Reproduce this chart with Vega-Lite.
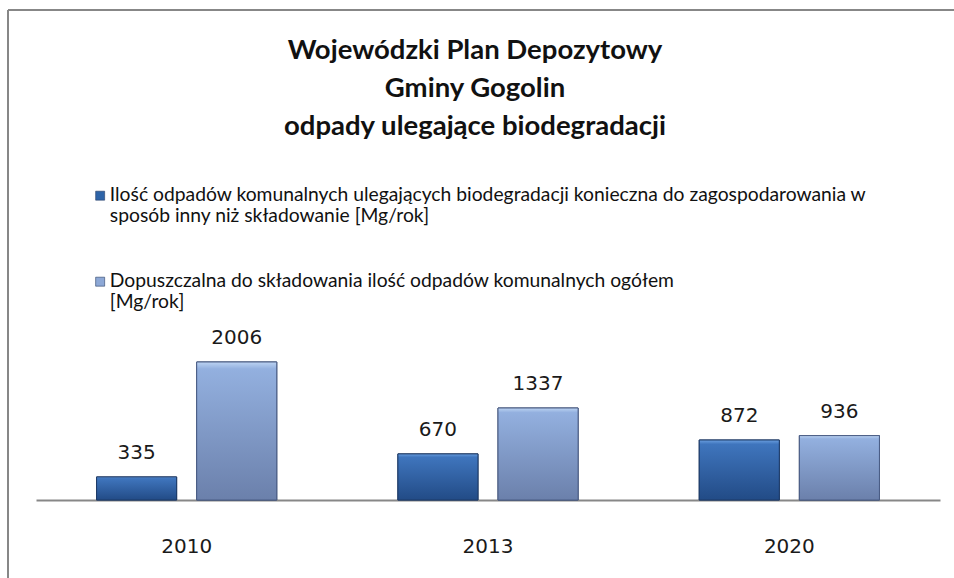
{
  "$schema": "https://vega.github.io/schema/vega-lite/v6.json",
  "width": 946,
  "height": 568,
  "autosize": {"type": "none"},
  "padding": {"left": 8, "top": 10, "right": 0, "bottom": 0},
  "background": "#ffffff",
  "title": {
    "text": ["Wojewódzki Plan Depozytowy", "Gminy Gogolin", "odpady ulegające biodegradacji"],
    "font": "Lato",
    "fontWeight": "bold",
    "fontSize": 27.5,
    "lineHeight": 38,
    "color": "#111111",
    "anchor": "middle",
    "dx": -6,
    "offset": -130
  },
  "data": {
    "values": [
      {"year": "2010", "series": "Ilość odpadów komunalnych ulegających biodegradacji konieczna do zagospodarowania w sposób inny niż składowanie [Mg/rok]", "value": 335},
      {"year": "2010", "series": "Dopuszczalna do składowania ilość odpadów komunalnych ogółem [Mg/rok]", "value": 2006},
      {"year": "2013", "series": "Ilość odpadów komunalnych ulegających biodegradacji konieczna do zagospodarowania w sposób inny niż składowanie [Mg/rok]", "value": 670},
      {"year": "2013", "series": "Dopuszczalna do składowania ilość odpadów komunalnych ogółem [Mg/rok]", "value": 1337},
      {"year": "2020", "series": "Ilość odpadów komunalnych ulegających biodegradacji konieczna do zagospodarowania w sposób inny niż składowanie [Mg/rok]", "value": 872},
      {"year": "2020", "series": "Dopuszczalna do składowania ilość odpadów komunalnych ogółem [Mg/rok]", "value": 936}
    ]
  },
  "encoding": {
    "x": {
      "field": "year", "type": "nominal", "title": null,
      "scale": {"range": [28, 932], "paddingInner": 0, "paddingOuter": 0},
      "axis": {
        "orient": "bottom", "offset": -78, "ticks": false,
        "domainColor": "#878787", "domainWidth": 2,
        "labelFont": "DejaVu Sans", "labelFontSize": 20, "labelColor": "#1a1a1a",
        "labelPadding": 36, "labelAngle": 0
      }
    },
    "xOffset": {
      "field": "series", "type": "nominal",
      "sort": ["Ilość odpadów komunalnych ulegających biodegradacji konieczna do zagospodarowania w sposób inny niż składowanie [Mg/rok]", "Dopuszczalna do składowania ilość odpadów komunalnych ogółem [Mg/rok]"],
      "scale": {"paddingInner": 0.2, "paddingOuter": 0.605}
    },
    "y": {
      "field": "value", "type": "quantitative", "title": null,
      "scale": {"domain": [0, 3000], "range": [490, 283.6], "nice": false, "zero": true},
      "axis": null
    }
  },
  "layer": [
    {
      "mark": {"type": "bar", "stroke": "#2a3f66", "strokeWidth": 1},
      "encoding": {
        "color": {
          "field": "series", "type": "nominal",
          "sort": ["Ilość odpadów komunalnych ulegających biodegradacji konieczna do zagospodarowania w sposób inny niż składowanie [Mg/rok]", "Dopuszczalna do składowania ilość odpadów komunalnych ogółem [Mg/rok]"],
          "scale": {"range": ["#2E64A8", "#8DA8D6"]},
          "legend": {
            "orient": "none", "legendX": 82.5, "legendY": 181,
            "title": null, "padding": 0,
            "symbolType": "M-1,-2.1H1V-0.1H-1Z", "symbolSize": 81,
            "symbolStrokeColor": "#2a3f66", "symbolStrokeWidth": 0.6,
            "labelFont": "Lato", "labelFontSize": 19.3, "labelColor": "#111111",
            "labelLimit": 900, "labelOffset": 0, "labelBaseline": "alphabetic",
            "rowPadding": 45,
            "labelExpr": "indexof(datum.label, 'Ilość') == 0 ? ['Ilość odpadów komunalnych ulegających biodegradacji konieczna do zagospodarowania w', 'sposób inny niż składowanie [Mg/rok]'] : ['Dopuszczalna do składowania ilość odpadów komunalnych ogółem', '[Mg/rok]']"
          }
        }
      }
    },
    {
      "transform": [{"filter": "indexof(datum.series, 'Ilość') == 0"}],
      "mark": {
        "type": "bar", "stroke": "#1d3a66", "strokeWidth": 1,
        "fill": {"gradient": "linear", "x1": 0, "y1": 0, "x2": 0, "y2": 1,
          "stops": [{"offset": 0, "color": "#6a9fe0"}, {"offset": 0.07, "color": "#3f75bd"}, {"offset": 1, "color": "#224b86"}]}
      }
    },
    {
      "transform": [{"filter": "indexof(datum.series, 'Dopuszczalna') == 0"}],
      "mark": {
        "type": "bar", "stroke": "#4a5c84", "strokeWidth": 1,
        "fill": {"gradient": "linear", "x1": 0, "y1": 0, "x2": 0, "y2": 1,
          "stops": [{"offset": 0, "color": "#bcd3f2"}, {"offset": 0.05, "color": "#93b0df"}, {"offset": 1, "color": "#6b80ab"}]}
      }
    },
    {
      "mark": {"type": "text", "baseline": "bottom", "dy": -14, "font": "DejaVu Sans", "fontSize": 20, "color": "#1a1a1a"},
      "encoding": {"text": {"field": "value", "type": "quantitative"}}
    }
  ],
  "config": {
    "view": {"stroke": "#878787", "strokeWidth": 2, "strokeDash": [946, 1514, 568, 0]},
    "style": {"guide-label": {"lineHeight": 21}}
  }
}
